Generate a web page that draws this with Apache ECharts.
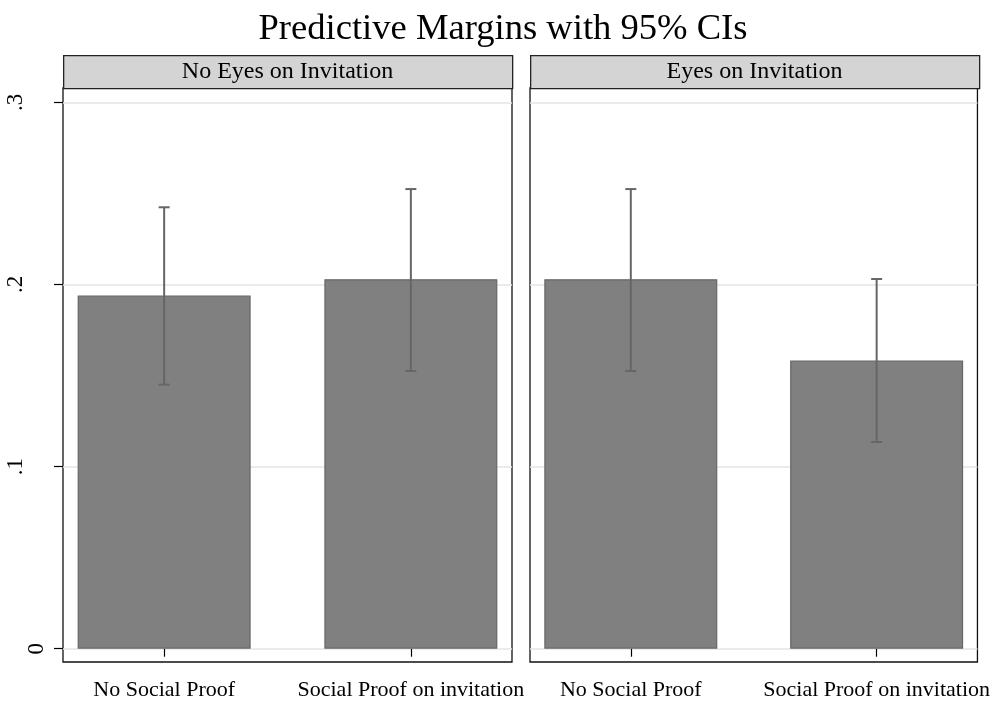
<!DOCTYPE html>
<html>
<head>
<meta charset="utf-8">
<script src="https://cdn.jsdelivr.net/npm/echarts@6/dist/echarts.min.js"></script>
<style>html,body{margin:0;padding:0;background:#fff}#c{width:993px;height:707px}</style>
</head>
<body>
<div id="c"></div>
<script>
var titleText = 'Predictive Margins with 95% CIs';
var panels = ['No Eyes on Invitation', 'Eyes on Invitation'];
var categories = ['No Social Proof', 'Social Proof on invitation'];
var catPos = [1, 2];
var yTicks = [0, 0.1, 0.2, 0.3];
var yTickLabels = ['0', '.1', '.2', '.3'];
// margins and CIs per panel
var marginNoEyes = [0.1939, 0.2029];
var lowNoEyes = [0.1450, 0.1525];
var highNoEyes = [0.2424, 0.2524];
var marginEyes = [0.2029, 0.1582];
var lowEyes = [0.1525, 0.1135];
var highEyes = [0.2524, 0.2030];

var FONT = 'Liberation Serif';
var chart = echarts.init(document.getElementById('c'), null, {renderer: 'canvas'});

var gridL = [63, 530];
var gridW = 449;
var gridTop = 88;
var gridH = 574;

function mkX(i) {
  return {
    gridIndex: i, type: 'value', min: 0.59, max: 2.41,
    axisLine: {show: false},
    splitLine: {show: false},
    axisTick: {show: true, customValues: catPos, length: 8, lineStyle: {color: '#000', width: 1.2}},
    axisLabel: {show: true, customValues: catPos, margin: 17, fontFamily: FONT, fontSize: 22, color: '#000',
      formatter: function (v) { return categories[Math.round(v) - 1]; }}
  };
}
function mkY(i) {
  return {
    gridIndex: i, type: 'value', min: -0.0073, max: 0.3079,
    axisLine: {show: false},
    axisTick: {show: i === 0, customValues: yTicks, length: 9, lineStyle: {color: '#000', width: 1.2}},
    axisLabel: {show: i === 0, customValues: yTicks, rotate: 90, margin: 15, fontFamily: FONT, fontSize: 23, color: '#000',
      formatter: function (v) {
        for (var k = 0; k < yTicks.length; k++) if (Math.abs(v - yTicks[k]) < 1e-6) {
          return k === 0 ? '{z|' + yTickLabels[k] + '}' : '{n|' + yTickLabels[k] + '}';
        }
        return '';
      },
      rich: {
        z: {fontFamily: FONT, fontSize: 23, color: '#000'},
        n: {fontFamily: FONT, fontSize: 23, color: '#000', padding: [0, 0, 21, 0]}
      }},
    splitLine: {show: true, lineStyle: {color: '#e4e4e4', width: 1.6}}
  };
}

function barData(vals) { return vals.map(function (v, k) { return [catPos[k], v]; }); }
function ciData(lo, hi) { return lo.map(function (v, k) { return [catPos[k], v, hi[k]]; }); }

function renderCI(params, api) {
  var x = api.value(0);
  var p1 = api.coord([x, api.value(1)]);
  var p2 = api.coord([x, api.value(2)]);
  var hw = 5.5;
  var st = {stroke: '#666', lineWidth: 2};
  return {type: 'group', children: [
    {type: 'line', shape: {x1: p1[0], y1: p1[1], x2: p2[0], y2: p2[1]}, style: st},
    {type: 'line', shape: {x1: p1[0] - hw, y1: p1[1], x2: p1[0] + hw, y2: p1[1]}, style: st},
    {type: 'line', shape: {x1: p2[0] - hw, y1: p2[1], x2: p2[0] + hw, y2: p2[1]}, style: st}
  ]};
}

var series = [];
var groups = [[marginNoEyes, lowNoEyes, highNoEyes], [marginEyes, lowEyes, highEyes]];
groups.forEach(function (g, i) {
  series.push({type: 'bar', xAxisIndex: i, yAxisIndex: i, data: barData(g[0]), barWidth: 173,
    itemStyle: {color: '#808080', borderColor: '#666', borderWidth: 1.2}, silent: true, z: 2});
  series.push({type: 'custom', xAxisIndex: i, yAxisIndex: i, data: ciData(g[1], g[2]), renderItem: renderCI, silent: true, z: 3});
});

var graphics = [];
panels.forEach(function (p, i) {
  graphics.push({type: 'rect', left: gridL[i], top: 55, shape: {width: gridW, height: 33},
    style: {fill: '#d4d4d4', stroke: '#222', lineWidth: 1.3}, z: 10});
  graphics.push({type: 'text', x: gridL[i] + gridW / 2, y: 71.5,
    style: {text: p, fontFamily: FONT, fontSize: 24, fill: '#000', textAlign: 'center', textVerticalAlign: 'middle'}, z: 11});
});

chart.setOption({
  animation: false,
  backgroundColor: '#fff',
  title: {text: titleText, left: 498, textAlign: 'center', top: 6,
    textStyle: {fontFamily: FONT, fontSize: 36.6, fontWeight: 'normal', color: '#000'}},
  grid: [0, 1].map(function (i) {
    return {left: gridL[i], top: gridTop, width: gridW, height: gridH, show: true,
      borderColor: '#111', borderWidth: 1.3, backgroundColor: 'transparent', containLabel: false};
  }),
  xAxis: [mkX(0), mkX(1)],
  yAxis: [mkY(0), mkY(1)],
  series: series,
  graphic: graphics
});
</script>
</body>
</html>
